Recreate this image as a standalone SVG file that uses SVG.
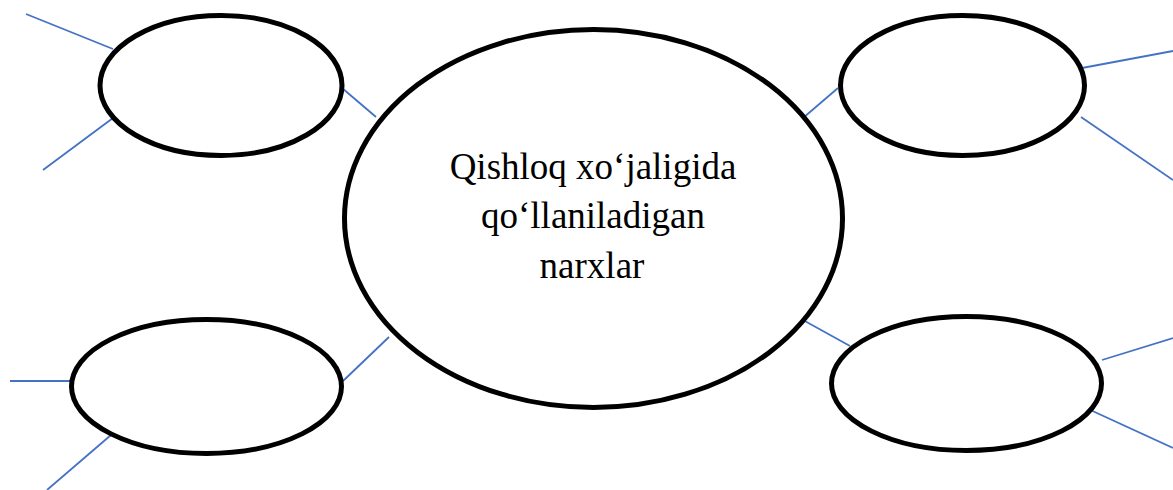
<svg xmlns="http://www.w3.org/2000/svg" width="1173" height="490" viewBox="0 0 1173 490">
<style>
.node{fill:#fff;stroke:#000;stroke-width:5}
.conn line{stroke:#4472C4;stroke-width:1.8}
.lbl{font-family:"Liberation Serif","Times New Roman",serif;font-size:37px;fill:#000;text-anchor:middle}
</style>
<rect width="1173" height="490" fill="#fff"/>
<g id="connectors" class="conn">
<line x1="26" y1="14" x2="113" y2="49"/>
<line x1="43" y1="170" x2="113" y2="118"/>
<line x1="342" y1="88" x2="376" y2="117"/>
<line x1="1082" y1="68" x2="1173" y2="51"/>
<line x1="1081" y1="117" x2="1173" y2="180"/>
<line x1="803" y1="118" x2="838" y2="88"/>
<line x1="10" y1="381" x2="71" y2="381"/>
<line x1="47" y1="490" x2="111" y2="435"/>
<line x1="343" y1="381" x2="389" y2="337"/>
<line x1="1102" y1="360" x2="1173" y2="338"/>
<line x1="1086" y1="408" x2="1173" y2="448"/>
<line x1="803" y1="320" x2="850" y2="346"/>
</g>
<g id="node-top-left"><ellipse class="node" cx="221" cy="85.5" rx="121" ry="70"/></g>
<g id="node-top-right"><ellipse class="node" cx="962.5" cy="85.5" rx="122" ry="70"/></g>
<g id="node-bottom-left"><ellipse class="node" cx="206.5" cy="386.5" rx="135" ry="67"/></g>
<g id="node-bottom-right"><ellipse class="node" cx="966.5" cy="383.5" rx="135" ry="67"/></g>
<g id="node-center">
<ellipse class="node" cx="593.5" cy="218.5" rx="249" ry="189"/>
<text class="lbl" x="593" y="179">Qishloq xo‘jaligida</text>
<text class="lbl" x="593" y="228">qo‘llaniladigan</text>
<text class="lbl" x="592" y="278">narxlar</text>
</g>
</svg>
